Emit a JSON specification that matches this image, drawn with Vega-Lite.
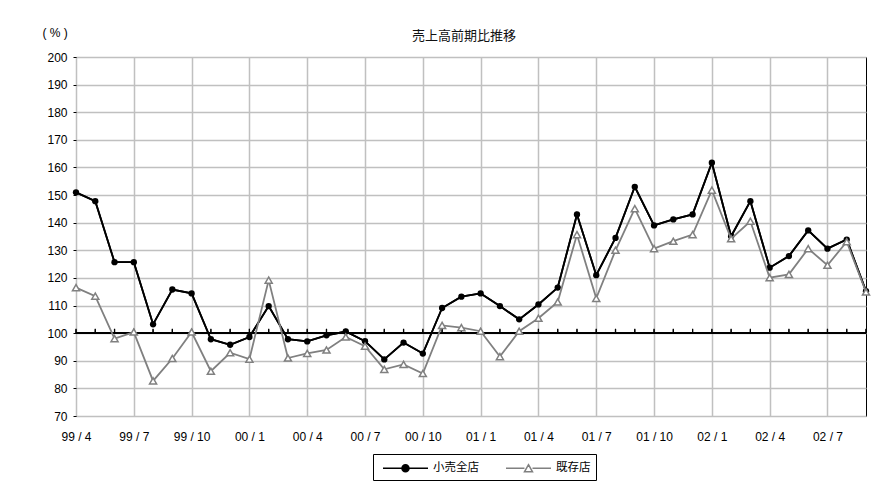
{
  "$schema": "https://vega.github.io/schema/vega-lite/v6.json",
  "width": 790,
  "height": 359,
  "autosize": "none",
  "padding": {"left": 76, "top": 57, "right": 30, "bottom": 75},
  "background": "white",
  "title": {"text": "売上高前期比推移", "anchor": "middle", "dx": -7, "offset": -17, "fontSize": 13, "fontWeight": "normal", "font": "Noto Sans CJK JP", "color": "#111111"},
  "data": {"values": [
    {"m": "99/4", "retail": 151.0, "existing": 116.5},
    {"m": "99/5", "retail": 147.8, "existing": 113.4},
    {"m": "99/6", "retail": 125.7, "existing": 98.0},
    {"m": "99/7", "retail": 125.7, "existing": 100.4},
    {"m": "99/8", "retail": 103.2, "existing": 82.7},
    {"m": "99/9", "retail": 115.8, "existing": 90.8},
    {"m": "99/10", "retail": 114.4, "existing": 100.4},
    {"m": "99/11", "retail": 97.8, "existing": 86.2},
    {"m": "99/12", "retail": 95.8, "existing": 92.9},
    {"m": "00/1", "retail": 98.6, "existing": 90.6},
    {"m": "00/2", "retail": 109.8, "existing": 119.2},
    {"m": "00/3", "retail": 97.8, "existing": 91.0},
    {"m": "00/4", "retail": 97.0, "existing": 92.7},
    {"m": "00/5", "retail": 99.2, "existing": 93.9},
    {"m": "00/6", "retail": 100.6, "existing": 98.6},
    {"m": "00/7", "retail": 97.1, "existing": 95.3},
    {"m": "00/8", "retail": 90.5, "existing": 86.9},
    {"m": "00/9", "retail": 96.6, "existing": 88.7},
    {"m": "00/10", "retail": 92.6, "existing": 85.4},
    {"m": "00/11", "retail": 109.1, "existing": 102.8},
    {"m": "00/12", "retail": 113.2, "existing": 102.0},
    {"m": "01/1", "retail": 114.4, "existing": 100.7},
    {"m": "01/2", "retail": 109.8, "existing": 91.5},
    {"m": "01/3", "retail": 105.0, "existing": 100.7},
    {"m": "01/4", "retail": 110.4, "existing": 105.4},
    {"m": "01/5", "retail": 116.5, "existing": 111.3},
    {"m": "01/6", "retail": 143.0, "existing": 135.7},
    {"m": "01/7", "retail": 121.0, "existing": 112.6},
    {"m": "01/8", "retail": 134.5, "existing": 130.0},
    {"m": "01/9", "retail": 153.0, "existing": 145.1},
    {"m": "01/10", "retail": 139.0, "existing": 130.6},
    {"m": "01/11", "retail": 141.2, "existing": 133.3},
    {"m": "01/12", "retail": 143.0, "existing": 135.7},
    {"m": "02/1", "retail": 161.7, "existing": 151.8},
    {"m": "02/2", "retail": 135.1, "existing": 134.2},
    {"m": "02/3", "retail": 147.8, "existing": 140.5},
    {"m": "02/4", "retail": 123.7, "existing": 120.1},
    {"m": "02/5", "retail": 127.9, "existing": 121.3},
    {"m": "02/6", "retail": 137.2, "existing": 130.6},
    {"m": "02/7", "retail": 130.6, "existing": 124.6},
    {"m": "02/8", "retail": 133.9, "existing": 133.1},
    {"m": "02/9", "retail": 115.2, "existing": 114.9}
  ]},
  "encoding": {
    "x": {"field": "m", "type": "ordinal", "sort": null, "scale": {"type": "point", "padding": 0},
      "axis": {"values": ["99/4", "99/7", "99/10", "00/1", "00/4", "00/7", "00/10", "01/1", "01/4", "01/7", "01/10", "02/1", "02/4", "02/7"], "labelExpr": "replace(datum.label, '/', ' / ')", "title": null, "grid": true}},
    "y": {"field": "retail", "type": "quantitative", "title": "( % )", "scale": {"domain": [70, 200], "nice": false, "zero": false},
      "axis": {"values": [70, 80, 90, 100, 110, 120, 130, 140, 150, 160, 170, 180, 190, 200], "grid": true, "labelOverlap": false, "titleAngle": 0, "titleAlign": "left", "titleBaseline": "middle", "titleX": -34, "titleY": -25, "titleFont": "Liberation Sans", "titleFontSize": 12, "titleFontWeight": "normal", "titleColor": "black"}}
  },
  "layer": [
    {
      "mark": {"type": "line", "strokeWidth": 1.8},
      "encoding": {
        "color": {"datum": "小売全店", "type": "nominal",
          "scale": {"domain": ["小売全店", "既存店"], "range": ["#000000", "#808080"]},
          "legend": {"title": null, "orient": "none", "legendX": 297, "legendY": 397, "direction": "horizontal",
            "symbolSize": 256, "symbolStrokeWidth": 1.5, "labelOffset": 37, "columnPadding": 22, "padding": 5,
            "strokeColor": "black", "fillColor": "white", "labelFont": "Noto Sans CJK JP", "labelFontSize": 11.5, "labelColor": "black",
            "encode": {"symbols": {"update": {
              "shape": {"signal": "datum.value === '小売全店' ? 'M-0.5,0L5.125,0M1.87,0A0.44,0.44,0,1,0,2.75,0A0.44,0.44,0,1,0,1.87,0Z' : 'M-0.5,0L1.81,0M2.81,0L5.125,0M2.31,-0.44L2.81,0.44L1.81,0.44Z'"},
              "fill": {"signal": "datum.value === '小売全店' ? 'black' : 'white'"},
              "stroke": {"signal": "datum.value === '小売全店' ? 'black' : '#808080'"},
              "opacity": {"value": 1}
            }}}}
        }
      }
    },
    {
      "mark": {"type": "rule", "color": "black", "strokeWidth": 1.5},
      "encoding": {
        "x": null,
        "y": {"datum": 100, "type": "quantitative", "title": "( % )",
          "axis": {"values": [70, 80, 90, 100, 110, 120, 130, 140, 150, 160, 170, 180, 190, 200], "grid": true, "labelOverlap": false, "titleAngle": 0, "titleAlign": "left", "titleBaseline": "middle", "titleX": -34, "titleY": -25, "titleFont": "Liberation Sans", "titleFontSize": 12, "titleFontWeight": "normal", "titleColor": "black"}}
      }
    },
    {
      "mark": {"type": "rule", "color": "black", "strokeWidth": 1.2, "opacity": 1},
      "encoding": {
        "y": {"datum": 100, "type": "quantitative", "title": "( % )",
          "axis": {"values": [70, 80, 90, 100, 110, 120, 130, 140, 150, 160, 170, 180, 190, 200], "grid": true, "labelOverlap": false, "titleAngle": 0, "titleAlign": "left", "titleBaseline": "middle", "titleX": -34, "titleY": -25, "titleFont": "Liberation Sans", "titleFontSize": 12, "titleFontWeight": "normal", "titleColor": "black"}},
        "y2": {"datum": 101.6}
      }
    },
    {
      "mark": {"type": "point", "shape": "M0,0L0,-1", "size": 64, "stroke": "black", "strokeWidth": 1.2, "filled": false, "opacity": 1},
      "encoding": {
        "y": {"datum": 100, "type": "quantitative", "title": "( % )",
          "axis": {"values": [70, 80, 90, 100, 110, 120, 130, 140, 150, 160, 170, 180, 190, 200], "grid": true, "labelOverlap": false, "titleAngle": 0, "titleAlign": "left", "titleBaseline": "middle", "titleX": -34, "titleY": -25, "titleFont": "Liberation Sans", "titleFontSize": 12, "titleFontWeight": "normal", "titleColor": "black"}}
      }
    },
    {
      "mark": {"type": "line", "strokeWidth": 1.8},
      "encoding": {
        "color": {"datum": "小売全店", "type": "nominal"}
      }
    },
    {
      "mark": {"type": "point", "shape": "circle", "filled": true, "size": 40, "color": "black", "opacity": 1}
    },
    {
      "mark": {"type": "line", "strokeWidth": 1.8},
      "encoding": {
        "y": {"field": "existing", "type": "quantitative", "title": "( % )"},
        "color": {"datum": "既存店", "type": "nominal"}
      }
    },
    {
      "mark": {"type": "point", "shape": "triangle-up", "filled": false, "fill": "white", "stroke": "#808080", "strokeWidth": 1.5, "size": 50, "opacity": 1},
      "encoding": {
        "y": {"field": "existing", "type": "quantitative", "title": "( % )"}
      }
    }
  ],
  "config": {
    "font": "Liberation Sans",
    "view": {"stroke": "black", "strokeWidth": 1},
    "axis": {"labelFont": "Liberation Sans", "labelFontSize": 12, "labelColor": "black", "gridColor": "#c0c0c0", "gridWidth": 1.5, "gridOpacity": 1, "domain": false},
    "axisX": {"ticks": false, "labelPadding": 15, "labelAngle": 0, "labelBaseline": "top"},
    "axisY": {"tickSize": 3, "tickColor": "black", "labelPadding": 6, "grid": true, "labelOverlap": false}
  }
}
